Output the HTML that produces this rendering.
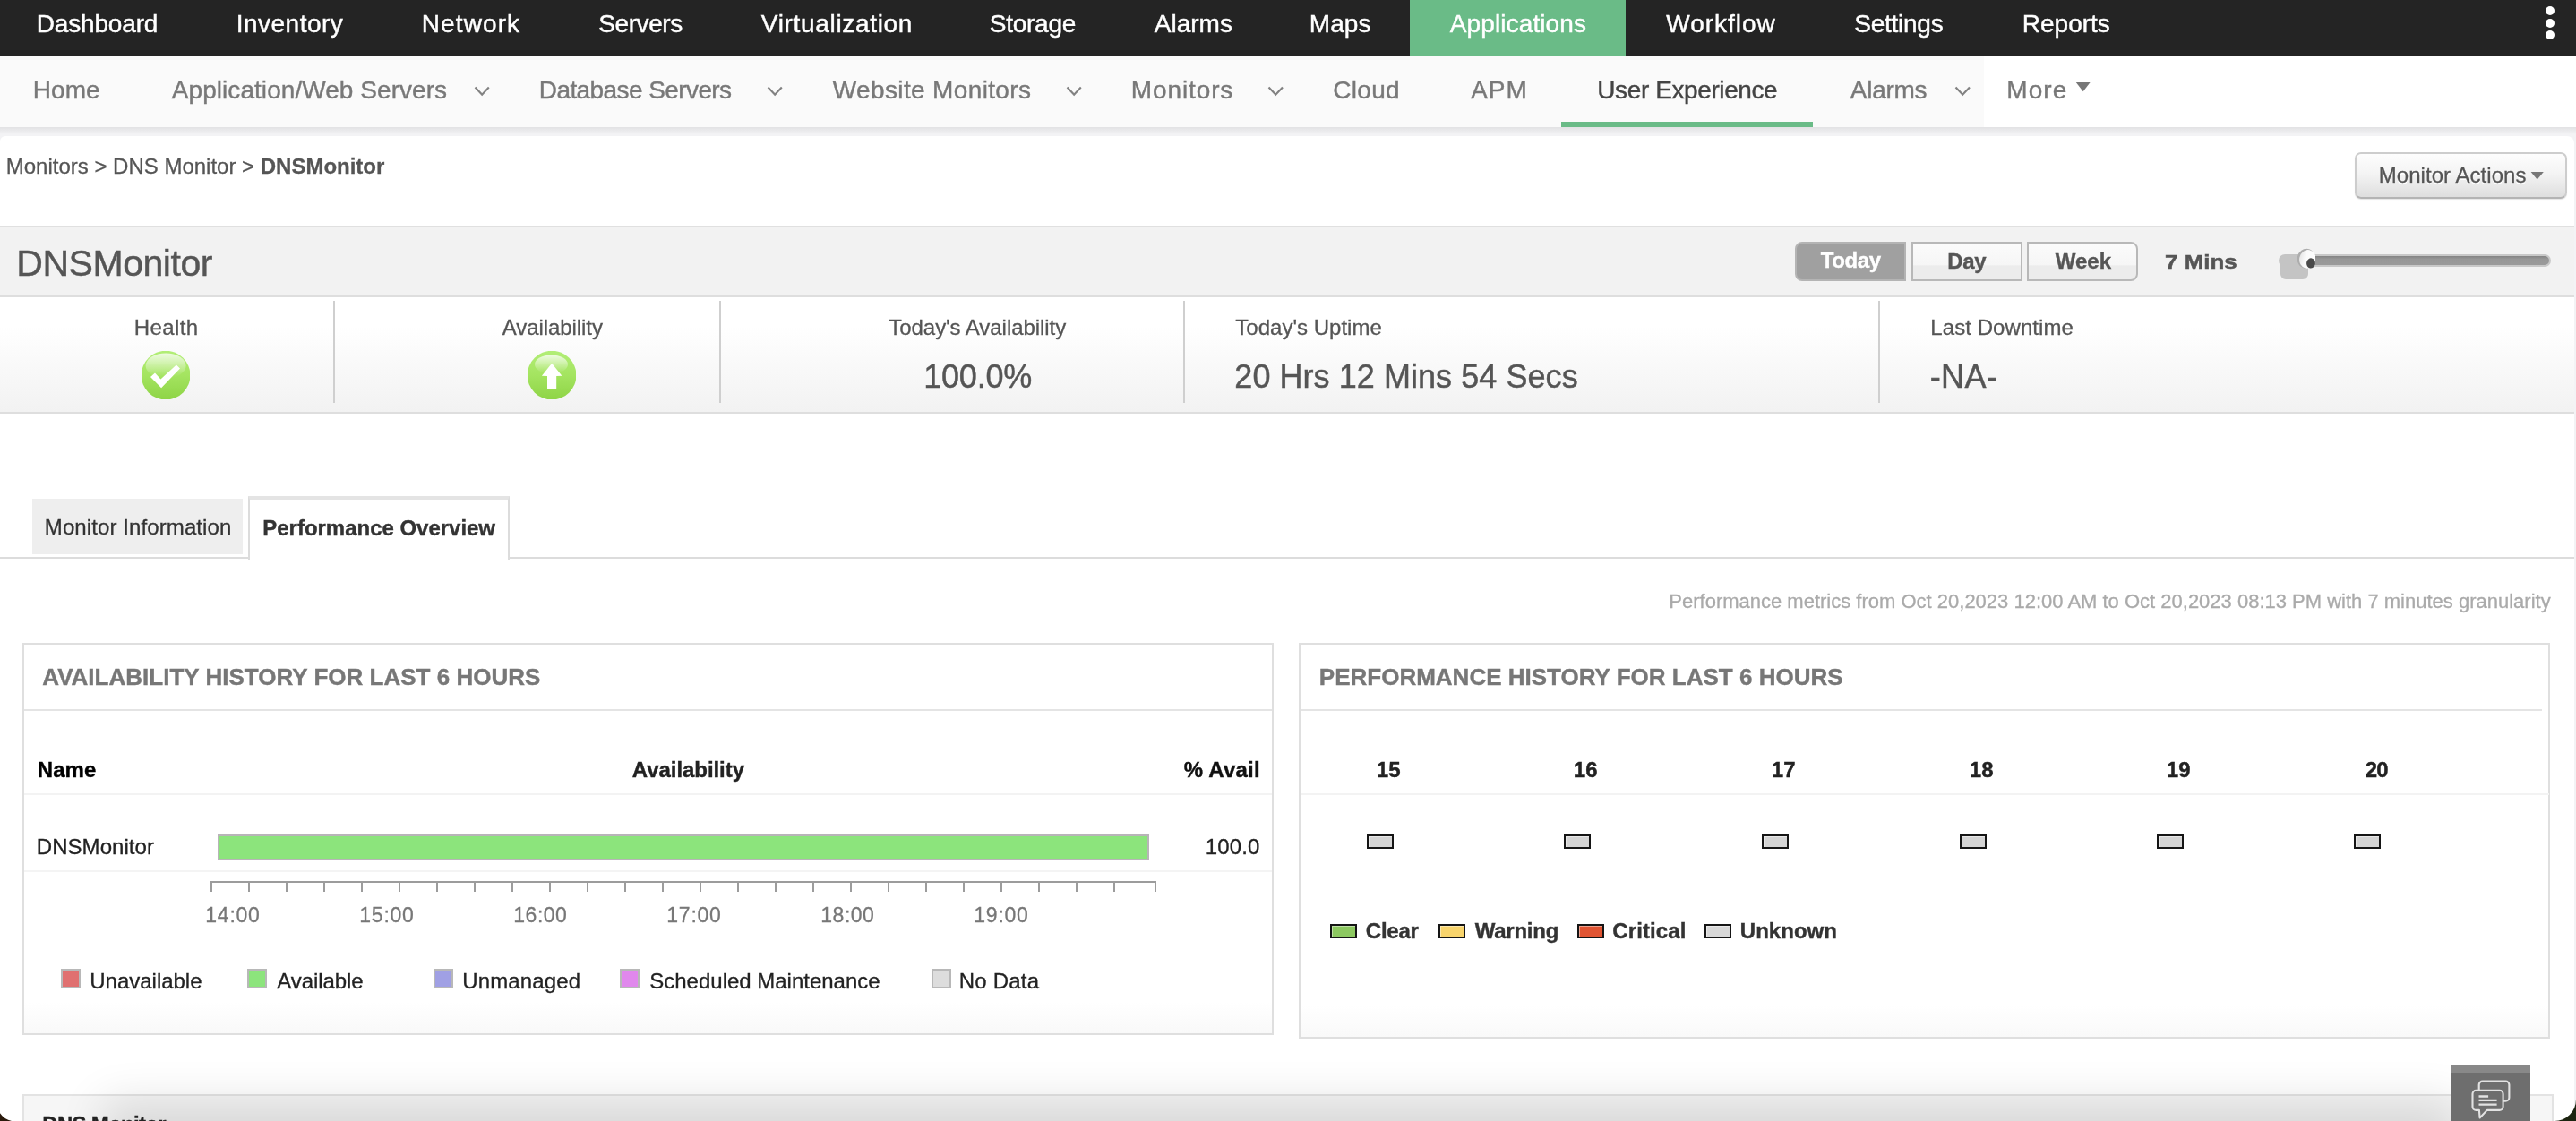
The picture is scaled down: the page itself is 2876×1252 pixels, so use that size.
<!DOCTYPE html>
<html><head><meta charset="utf-8"><title>DNSMonitor</title>
<style>
html,body{margin:0;padding:0;}
body{width:2876px;height:1252px;overflow:hidden;background:#f3f3f5;font-family:"Liberation Sans",sans-serif;position:relative;}
.r{position:absolute;}
.t{position:absolute;white-space:nowrap;font-family:"Liberation Sans",sans-serif;}
.t b{font-weight:700;}
</style></head><body>
<!-- top bar -->
<div class="r" style="left:0;top:0;width:2876px;height:62px;background:#242424"></div>
<div class="r" style="left:1574px;top:0;width:241px;height:62px;background:#6abb87"></div>
<div class="r" style="left:2842px;top:7px;width:10px;height:10px;border-radius:50%;background:#fff"></div>
<div class="r" style="left:2842px;top:20.5px;width:10px;height:10px;border-radius:50%;background:#fff"></div>
<div class="r" style="left:2842px;top:34px;width:10px;height:10px;border-radius:50%;background:#fff"></div>
<!-- sub nav -->
<div class="r" style="left:0;top:62px;width:2876px;height:80px;background:#fff"></div>
<div class="r" style="left:0;top:62px;width:2215px;height:80px;background:#fafafa"></div>
<div class="r" style="left:0;top:142px;width:2876px;height:8px;background:linear-gradient(#e2e2e4,#f3f3f5)"></div>
<div class="r" style="left:1743px;top:136px;width:281px;height:6px;background:#6abb87"></div>
<svg style="position:absolute;left:528px;top:94.8px" width="20.299999999999955" height="13.200000000000003" viewBox="-2 -2 20.299999999999955 13.200000000000003"><path d="M0.5 0.5 L8.149999999999977 8.700000000000003 L15.799999999999955 0.5" fill="none" stroke="#828282" stroke-width="2.2" stroke-linecap="butt" stroke-linejoin="miter"/></svg><svg style="position:absolute;left:855px;top:94.8px" width="20.299999999999955" height="13.200000000000003" viewBox="-2 -2 20.299999999999955 13.200000000000003"><path d="M0.5 0.5 L8.149999999999977 8.700000000000003 L15.799999999999955 0.5" fill="none" stroke="#828282" stroke-width="2.2" stroke-linecap="butt" stroke-linejoin="miter"/></svg><svg style="position:absolute;left:1189.2px;top:94.8px" width="20.299999999999955" height="13.200000000000003" viewBox="-2 -2 20.299999999999955 13.200000000000003"><path d="M0.5 0.5 L8.149999999999977 8.700000000000003 L15.799999999999955 0.5" fill="none" stroke="#828282" stroke-width="2.2" stroke-linecap="butt" stroke-linejoin="miter"/></svg><svg style="position:absolute;left:1413.5px;top:94.8px" width="20.5" height="13.200000000000003" viewBox="-2 -2 20.5 13.200000000000003"><path d="M0.5 0.5 L8.25 8.700000000000003 L16.0 0.5" fill="none" stroke="#828282" stroke-width="2.2" stroke-linecap="butt" stroke-linejoin="miter"/></svg><svg style="position:absolute;left:2181px;top:94.8px" width="20.5" height="13.200000000000003" viewBox="-2 -2 20.5 13.200000000000003"><path d="M0.5 0.5 L8.25 8.700000000000003 L16.0 0.5" fill="none" stroke="#828282" stroke-width="2.2" stroke-linecap="butt" stroke-linejoin="miter"/></svg>
<svg class="r" style="left:2317px;top:92px" width="18" height="11" viewBox="0 0 18 11"><path d="M0.8 0 L16.6 0 L8.7 10.2 Z" fill="#777"/></svg>
<!-- content -->
<div class="r" style="left:0;top:152px;width:2874px;height:1100px;background:#fff;border-radius:6px 8px 0 0"></div>
<!-- monitor actions btn -->
<div class="r" style="left:2629px;top:170px;width:237px;height:52px;box-sizing:border-box;border:2px solid #cdcdcd;border-bottom-color:#b4b4b4;border-radius:7px;background:linear-gradient(#fdfdfd,#f4f4f4 45%,#dedede);box-shadow:0 1px 1px rgba(0,0,0,.10)"></div>
<svg class="r" style="left:2825px;top:192px" width="16" height="9" viewBox="0 0 16 9"><path d="M0.6 0 L14.8 0 L7.7 8.4 Z" fill="#777"/></svg>
<!-- header band -->
<div class="r" style="left:0;top:252px;width:2874px;height:80px;box-sizing:border-box;border-top:2px solid #e0e0e0;border-bottom:2px solid #dedede;background:#f2f2f2"></div>
<!-- stats row -->
<div class="r" style="left:0;top:332px;width:2874px;height:130px;box-sizing:border-box;border-bottom:2px solid #dedede;background:linear-gradient(#fff 25%,#f2f2f2)"></div>
<div class="r" style="left:372px;top:336px;width:2px;height:114px;background:#cfcfcf"></div>
<div class="r" style="left:803px;top:336px;width:2px;height:114px;background:#cfcfcf"></div>
<div class="r" style="left:1321px;top:336px;width:2px;height:114px;background:#cfcfcf"></div>
<div class="r" style="left:2097px;top:336px;width:2px;height:114px;background:#cfcfcf"></div>
<!-- health icon -->
<svg class="r" style="left:157.9px;top:391.8px" width="54.2" height="54.2" viewBox="0 0 54.2 54.2">
<defs><linearGradient id="g1" x1="0" y1="0" x2="0" y2="1"><stop offset="0" stop-color="#b2ee76"/><stop offset=".5" stop-color="#a4e460"/><stop offset="1" stop-color="#8ed446"/></linearGradient>
<linearGradient id="g2" x1="0" y1="0" x2="0" y2="1"><stop offset="0" stop-color="#fff" stop-opacity=".78"/><stop offset=".9" stop-color="#fff" stop-opacity="0.03"/><stop offset="1" stop-color="#fff" stop-opacity="0"/></linearGradient>
<clipPath id="cp"><rect x="0" y="0" width="54.2" height="54.2"/></clipPath></defs>
<g clip-path="url(#cp)"><circle cx="27.1" cy="27.1" r="27.35" fill="url(#g1)"/>
<ellipse cx="27.1" cy="16.5" rx="22.5" ry="14" fill="url(#g2)"/>
<path d="M10 28.9 L15 24.4 L21.4 31.6 L38.9 15.5 L43 19.6 L22.1 41.3 Z" fill="#fff"/></g></svg>
<svg class="r" style="left:588.9px;top:391.8px" width="54.2" height="54.2" viewBox="0 0 54.2 54.2">
<g clip-path="url(#cp)"><circle cx="27.1" cy="27.1" r="27.35" fill="url(#g1)"/>
<ellipse cx="26.5" cy="15" rx="18.5" ry="10.5" fill="url(#g2)"/>
<path d="M27.1 13.7 L38.4 27.7 L32.2 27.9 L32.2 42.2 L22 42.2 L22 27.9 L15.9 27.7 Z" fill="#fff"/></g></svg>
<!-- period buttons -->
<div class="r" style="left:2004px;top:270px;width:124px;height:44px;box-sizing:border-box;border:2px solid #b4b4b4;border-radius:8px 0 0 8px;background:#a0a0a0"></div>
<div class="r" style="left:2134px;top:270px;width:124px;height:44px;box-sizing:border-box;border:2px solid #b8b8b8;background:linear-gradient(#fbfbfb,#f6f6f6 60%,#ececec 62%,#ececec)"></div>
<div class="r" style="left:2263px;top:270px;width:124px;height:44px;box-sizing:border-box;border:2px solid #b8b8b8;border-radius:0 8px 8px 0;background:linear-gradient(#fbfbfb,#f6f6f6 60%,#ececec 62%,#ececec)"></div>
<!-- slider -->
<div class="r" style="left:2544px;top:284px;width:33px;height:14px;border-radius:7px 0 0 7px;background:#c4c4c4"></div>
<div class="r" style="left:2546px;top:288px;width:31px;height:24px;border-radius:0 0 6px 6px;background:#c4c4c4"></div>
<div class="r" style="left:2572px;top:284px;width:276px;height:14px;box-sizing:border-box;border:2px solid #c8c8c8;border-radius:7px;background:linear-gradient(#838383,#979797 35%,#9a9a9a)"></div>
<svg class="r" style="left:2562px;top:275px" width="26" height="28" viewBox="0 0 26 28">
<defs><linearGradient id="hg" x1="0" y1="0" x2="1" y2="0"><stop offset="0" stop-color="#e6e6e6"/><stop offset=".35" stop-color="#fafafa"/><stop offset="1" stop-color="#fff"/></linearGradient></defs>
<clipPath id="hc"><rect x="0" y="0" width="23" height="28"/></clipPath><g clip-path="url(#hc)"><g transform="rotate(12 13 14)"><ellipse cx="12.6" cy="13.8" rx="10" ry="11" fill="#adadad"/><ellipse cx="14.4" cy="14.2" rx="9.2" ry="10.4" fill="url(#hg)"/></g></g>
<ellipse cx="18" cy="18.9" rx="4.9" ry="5.6" fill="#4a4a4a" transform="rotate(10 18 18.9)"/>
</svg>
<!-- tabs -->
<div class="r" style="left:0;top:622px;width:2874px;height:2px;background:#dcdcdc"></div>
<div class="r" style="left:36px;top:557px;width:235px;height:62px;background:#eee"></div>
<div class="r" style="left:277px;top:554px;width:292px;height:71px;box-sizing:border-box;border:2px solid #dcdcdc;border-top:4px solid #e4e4e4;border-bottom:0;background:#fff"></div>
<!-- left panel -->
<div class="r" style="left:25px;top:718px;width:1397px;height:438px;box-sizing:border-box;border:2px solid #dfdfdf;background:linear-gradient(#fff 92%,#f9f9f9)"></div>
<div class="r" style="left:27px;top:792px;width:1393px;height:2px;background:#e4e4e4"></div>
<div class="r" style="left:27px;top:886px;width:1393px;height:2px;background:#f3f3f3"></div>
<div class="r" style="left:27px;top:972px;width:1393px;height:2px;background:#f4f4f4"></div>
<div class="r" style="left:243px;top:932px;width:1040px;height:29px;box-sizing:border-box;border:2px solid #b8b4b8;background:#8ce47c"></div>
<div class="r" style="left:277px;top:985px;width:2px;height:11px;background:#9c9c9c"></div><div class="r" style="left:319px;top:985px;width:2px;height:11px;background:#9c9c9c"></div><div class="r" style="left:361px;top:985px;width:2px;height:11px;background:#9c9c9c"></div><div class="r" style="left:403px;top:985px;width:2px;height:11px;background:#9c9c9c"></div><div class="r" style="left:445px;top:985px;width:2px;height:11px;background:#9c9c9c"></div><div class="r" style="left:487px;top:985px;width:2px;height:11px;background:#9c9c9c"></div><div class="r" style="left:529px;top:985px;width:2px;height:11px;background:#9c9c9c"></div><div class="r" style="left:571px;top:985px;width:2px;height:11px;background:#9c9c9c"></div><div class="r" style="left:613px;top:985px;width:2px;height:11px;background:#9c9c9c"></div><div class="r" style="left:655px;top:985px;width:2px;height:11px;background:#9c9c9c"></div><div class="r" style="left:697px;top:985px;width:2px;height:11px;background:#9c9c9c"></div><div class="r" style="left:739px;top:985px;width:2px;height:11px;background:#9c9c9c"></div><div class="r" style="left:781px;top:985px;width:2px;height:11px;background:#9c9c9c"></div><div class="r" style="left:823px;top:985px;width:2px;height:11px;background:#9c9c9c"></div><div class="r" style="left:865px;top:985px;width:2px;height:11px;background:#9c9c9c"></div><div class="r" style="left:907px;top:985px;width:2px;height:11px;background:#9c9c9c"></div><div class="r" style="left:949px;top:985px;width:2px;height:11px;background:#9c9c9c"></div><div class="r" style="left:991px;top:985px;width:2px;height:11px;background:#9c9c9c"></div><div class="r" style="left:1033px;top:985px;width:2px;height:11px;background:#9c9c9c"></div><div class="r" style="left:1075px;top:985px;width:2px;height:11px;background:#9c9c9c"></div><div class="r" style="left:1117px;top:985px;width:2px;height:11px;background:#9c9c9c"></div><div class="r" style="left:1159px;top:985px;width:2px;height:11px;background:#9c9c9c"></div><div class="r" style="left:1201px;top:985px;width:2px;height:11px;background:#9c9c9c"></div><div class="r" style="left:1243px;top:985px;width:2px;height:11px;background:#9c9c9c"></div><div class="r" style="left:235px;top:984px;width:1056px;height:2px;background:#9c9c9c"></div><div class="r" style="left:235px;top:984px;width:2px;height:12px;background:#9c9c9c"></div><div class="r" style="left:1289px;top:984px;width:2px;height:12px;background:#9c9c9c"></div>
<div class="r" style="left:68px;top:1082px;width:22px;height:22px;box-sizing:border-box;border:2px solid #b8b8b8;background:#e07070"></div><div class="r" style="left:276px;top:1082px;width:22px;height:22px;box-sizing:border-box;border:2px solid #b8b8b8;background:#8ce47c"></div><div class="r" style="left:484px;top:1082px;width:22px;height:22px;box-sizing:border-box;border:2px solid #b8b8b8;background:#a0a0e4"></div><div class="r" style="left:692px;top:1082px;width:22px;height:22px;box-sizing:border-box;border:2px solid #b8b8b8;background:#e088ec"></div><div class="r" style="left:1040px;top:1082px;width:22px;height:22px;box-sizing:border-box;border:2px solid #b8b8b8;background:#dddddd"></div>
<!-- right panel -->
<div class="r" style="left:1450px;top:718px;width:1397px;height:442px;box-sizing:border-box;border:2px solid #dfdfdf;background:linear-gradient(#fff 92%,#f9f9f9)"></div>
<div class="r" style="left:1452px;top:792px;width:1386px;height:2px;background:#e4e4e4"></div>
<div class="r" style="left:1452px;top:886px;width:1394px;height:2px;background:#f3f3f3"></div>
<div class="r" style="left:1526px;top:932px;width:30px;height:16px;box-sizing:border-box;border:2px solid #151515;box-shadow:inset 1px 1px 0 rgba(255,255,255,.45);background:#d4d4d4"></div><div class="r" style="left:1746px;top:932px;width:30px;height:16px;box-sizing:border-box;border:2px solid #151515;box-shadow:inset 1px 1px 0 rgba(255,255,255,.45);background:#d4d4d4"></div><div class="r" style="left:1967px;top:932px;width:30px;height:16px;box-sizing:border-box;border:2px solid #151515;box-shadow:inset 1px 1px 0 rgba(255,255,255,.45);background:#d4d4d4"></div><div class="r" style="left:2188px;top:932px;width:30px;height:16px;box-sizing:border-box;border:2px solid #151515;box-shadow:inset 1px 1px 0 rgba(255,255,255,.45);background:#d4d4d4"></div><div class="r" style="left:2408px;top:932px;width:30px;height:16px;box-sizing:border-box;border:2px solid #151515;box-shadow:inset 1px 1px 0 rgba(255,255,255,.45);background:#d4d4d4"></div><div class="r" style="left:2628px;top:932px;width:30px;height:16px;box-sizing:border-box;border:2px solid #151515;box-shadow:inset 1px 1px 0 rgba(255,255,255,.45);background:#d4d4d4"></div>
<div class="r" style="left:1485px;top:1032px;width:30px;height:16px;box-sizing:border-box;border:2px solid #151515;box-shadow:inset 1px 1px 0 rgba(255,255,255,.45);background:#8cc860"></div><div class="r" style="left:1606px;top:1032px;width:30px;height:16px;box-sizing:border-box;border:2px solid #151515;box-shadow:inset 1px 1px 0 rgba(255,255,255,.45);background:#f8d46c"></div><div class="r" style="left:1761px;top:1032px;width:30px;height:16px;box-sizing:border-box;border:2px solid #151515;box-shadow:inset 1px 1px 0 rgba(255,255,255,.45);background:#e05432"></div><div class="r" style="left:1903px;top:1032px;width:30px;height:16px;box-sizing:border-box;border:2px solid #151515;box-shadow:inset 1px 1px 0 rgba(255,255,255,.45);background:#d8d8d8"></div>
<!-- bottom panel -->
<div class="r" style="left:25px;top:1222px;width:2826px;height:40px;box-sizing:border-box;border:2px solid #e3e3e3;background:#f6f6f6"></div>
<!-- bottom shadow -->
<div class="r" style="left:0;top:1150px;width:2876px;height:102px;overflow:hidden"><div class="r" style="left:160px;top:125px;width:2540px;height:10px;box-shadow:0 0 50px 45px rgba(0,0,0,.12)"></div></div>
<!-- chat widget -->
<div class="r" style="left:2737px;top:1190px;width:88px;height:62px;background:#6e6e6e"></div>
<div class="r" style="left:2737px;top:1190px;width:88px;height:8px;background:#888"></div>
<svg class="r" style="left:2756px;top:1204px" width="52" height="48" viewBox="0 0 52 48"><g fill="none" stroke="#e2e2e2" stroke-width="2.1" stroke-linejoin="round">
<path d="M11.7 13.7 V7.6 a4 4 0 0 1 4 -4 H41.4 a4 4 0 0 1 4 4 V21.8 a4 4 0 0 1 -4 4 H38.6"/>
<path d="M8.5 13.7 H34.6 a4 4 0 0 1 4 4 V31.9 a4 4 0 0 1 -4 4 H20.7 L12.6 44.5 L11.9 35.9 H8.5 a4 4 0 0 1 -4 -4 V17.7 a4 4 0 0 1 4 -4 Z"/>
<path d="M11.5 20.5 H22.1 M11.5 24.9 H31.6 M11.5 29.6 H31.6" stroke-width="2.4"/></g></svg>
<!-- window corners -->
<svg class="r" style="left:2852px;top:1228px" width="24" height="24" viewBox="0 0 24 24"><path d="M24 0 V24 H0 A24 24 0 0 0 24 0 Z" fill="#1c2410"/></svg>
<svg class="r" style="left:0;top:1230px" width="22" height="22" viewBox="0 0 22 22"><path d="M0 13.3 A20.4 20.4 0 0 0 13 22 L0 22 Z" fill="#2a1a0c"/></svg>
<div class="r" style="left:0;top:0;width:2876px;height:1252px;will-change:transform">
<span class="t" style="left:40.80px;top:9.00px;font-size:28px;line-height:35px;font-weight:400;color:#fff;letter-spacing:-0.175px;-webkit-text-stroke:0.45px;">Dashboard</span>
<span class="t" style="left:263.80px;top:9.00px;font-size:28px;line-height:35px;font-weight:400;color:#fff;letter-spacing:0.475px;-webkit-text-stroke:0.45px;">Inventory</span>
<span class="t" style="left:470.80px;top:9.00px;font-size:28px;line-height:35px;font-weight:400;color:#fff;letter-spacing:1.100px;-webkit-text-stroke:0.45px;">Network</span>
<span class="t" style="left:668.30px;top:9.00px;font-size:28px;line-height:35px;font-weight:400;color:#fff;letter-spacing:-0.433px;-webkit-text-stroke:0.45px;">Servers</span>
<span class="t" style="left:849.80px;top:9.00px;font-size:28px;line-height:35px;font-weight:400;color:#fff;letter-spacing:0.677px;-webkit-text-stroke:0.45px;">Virtualization</span>
<span class="t" style="left:1104.80px;top:9.00px;font-size:28px;line-height:35px;font-weight:400;color:#fff;letter-spacing:-0.267px;-webkit-text-stroke:0.45px;">Storage</span>
<span class="t" style="left:1288.80px;top:9.00px;font-size:28px;line-height:35px;font-weight:400;color:#fff;letter-spacing:0.000px;-webkit-text-stroke:0.45px;">Alarms</span>
<span class="t" style="left:1461.80px;top:9.00px;font-size:28px;line-height:35px;font-weight:400;color:#fff;letter-spacing:0.067px;-webkit-text-stroke:0.45px;">Maps</span>
<span class="t" style="left:1618.80px;top:9.00px;font-size:28px;line-height:35px;font-weight:400;color:#fff;letter-spacing:0.109px;-webkit-text-stroke:0.45px;">Applications</span>
<span class="t" style="left:1860.30px;top:9.00px;font-size:28px;line-height:35px;font-weight:400;color:#fff;letter-spacing:0.971px;-webkit-text-stroke:0.45px;">Workflow</span>
<span class="t" style="left:2070.30px;top:9.00px;font-size:28px;line-height:35px;font-weight:400;color:#fff;letter-spacing:-0.257px;-webkit-text-stroke:0.45px;">Settings</span>
<span class="t" style="left:2257.80px;top:9.00px;font-size:28px;line-height:35px;font-weight:400;color:#fff;letter-spacing:0.000px;-webkit-text-stroke:0.45px;">Reports</span>
<span class="t" style="left:36.80px;top:83.00px;font-size:28px;line-height:35px;font-weight:400;color:#787878;letter-spacing:0.067px;-webkit-text-stroke:0.4px;">Home</span>
<span class="t" style="left:191.80px;top:83.00px;font-size:28px;line-height:35px;font-weight:400;color:#787878;letter-spacing:0.055px;-webkit-text-stroke:0.4px;">Application/Web Servers</span>
<span class="t" style="left:601.80px;top:83.00px;font-size:28px;line-height:35px;font-weight:400;color:#787878;letter-spacing:-0.587px;-webkit-text-stroke:0.4px;">Database Servers</span>
<span class="t" style="left:929.80px;top:83.00px;font-size:28px;line-height:35px;font-weight:400;color:#787878;letter-spacing:0.360px;-webkit-text-stroke:0.4px;">Website Monitors</span>
<span class="t" style="left:1262.80px;top:83.00px;font-size:28px;line-height:35px;font-weight:400;color:#787878;letter-spacing:0.886px;-webkit-text-stroke:0.4px;">Monitors</span>
<span class="t" style="left:1488.30px;top:83.00px;font-size:28px;line-height:35px;font-weight:400;color:#787878;letter-spacing:0.300px;-webkit-text-stroke:0.4px;">Cloud</span>
<span class="t" style="left:1642.30px;top:83.00px;font-size:28px;line-height:35px;font-weight:400;color:#787878;letter-spacing:0.900px;-webkit-text-stroke:0.4px;">APM</span>
<span class="t" style="left:1783.30px;top:83.00px;font-size:28px;line-height:35px;font-weight:400;color:#444;letter-spacing:-0.400px;-webkit-text-stroke:0.4px;">User Experience</span>
<span class="t" style="left:2065.80px;top:83.00px;font-size:28px;line-height:35px;font-weight:400;color:#787878;letter-spacing:-0.280px;-webkit-text-stroke:0.4px;">Alarms</span>
<span class="t" style="left:2240.30px;top:83.00px;font-size:28px;line-height:35px;font-weight:400;color:#787878;letter-spacing:1.067px;-webkit-text-stroke:0.4px;">More</span>
<span class="t" style="left:6.80px;top:170.00px;font-size:24px;line-height:31px;font-weight:400;color:#555;letter-spacing:-0.006px;-webkit-text-stroke:0.3px;">Monitors &gt; DNS Monitor &gt; <b>DNSMonitor</b></span>
<span class="t" style="left:2655.80px;top:180.00px;font-size:24px;line-height:31px;font-weight:400;color:#555;letter-spacing:0.043px;-webkit-text-stroke:0.3px;text-shadow:0 2px 0 #fff;">Monitor Actions</span>
<span class="t" style="left:18.30px;top:269.00px;font-size:41px;line-height:50px;font-weight:400;color:#555;letter-spacing:-0.467px;-webkit-text-stroke:0.45px;">DNSMonitor</span>
<span class="t" style="left:2032.80px;top:275.00px;font-size:24px;line-height:31px;font-weight:700;color:#fff;letter-spacing:-0.400px;-webkit-text-stroke:0.4px;">Today</span>
<span class="t" style="left:2174.30px;top:276.00px;font-size:24px;line-height:31px;font-weight:700;color:#555;letter-spacing:-0.400px;-webkit-text-stroke:0.4px;">Day</span>
<span class="t" style="left:2294.80px;top:276.00px;font-size:24px;line-height:31px;font-weight:700;color:#555;letter-spacing:0.000px;-webkit-text-stroke:0.4px;">Week</span>
<span class="t" style="left:2416.80px;top:278.00px;font-size:22px;line-height:29px;font-weight:700;color:#555;letter-spacing:0.000px;-webkit-text-stroke:0.5px;transform:scaleX(1.1791);transform-origin:0 0;">7 Mins</span>
<span class="t" style="left:149.80px;top:350.00px;font-size:24px;line-height:31px;font-weight:400;color:#555;letter-spacing:0.400px;-webkit-text-stroke:0.3px;">Health</span>
<span class="t" style="left:560.80px;top:350.00px;font-size:24px;line-height:31px;font-weight:400;color:#555;letter-spacing:-0.073px;-webkit-text-stroke:0.3px;">Availability</span>
<span class="t" style="left:992.30px;top:350.00px;font-size:24px;line-height:31px;font-weight:400;color:#555;letter-spacing:-0.053px;-webkit-text-stroke:0.3px;">Today's Availability</span>
<span class="t" style="left:1379.30px;top:350.00px;font-size:24px;line-height:31px;font-weight:400;color:#555;letter-spacing:0.015px;-webkit-text-stroke:0.3px;">Today's Uptime</span>
<span class="t" style="left:2155.30px;top:350.00px;font-size:24px;line-height:31px;font-weight:400;color:#555;letter-spacing:0.067px;-webkit-text-stroke:0.3px;">Last Downtime</span>
<span class="t" style="left:1031.30px;top:398.00px;font-size:36px;line-height:45px;font-weight:400;color:#555;letter-spacing:-0.240px;-webkit-text-stroke:0.45px;">100.0%</span>
<span class="t" style="left:1378.30px;top:398.00px;font-size:36px;line-height:45px;font-weight:400;color:#555;letter-spacing:0.057px;-webkit-text-stroke:0.45px;">20 Hrs 12 Mins 54 Secs</span>
<span class="t" style="left:2154.80px;top:398.00px;font-size:36px;line-height:45px;font-weight:400;color:#555;letter-spacing:0.333px;-webkit-text-stroke:0.45px;">-NA-</span>
<span class="t" style="left:49.80px;top:573.00px;font-size:24px;line-height:31px;font-weight:400;color:#333;letter-spacing:0.100px;-webkit-text-stroke:0.3px;">Monitor Information</span>
<span class="t" style="left:293.30px;top:574.00px;font-size:24px;line-height:31px;font-weight:700;color:#333;letter-spacing:-0.021px;-webkit-text-stroke:0.4px;">Performance Overview</span>
<span class="t" style="left:1863.30px;top:657.00px;font-size:22px;line-height:29px;font-weight:400;color:#aaa;letter-spacing:0.000px;-webkit-text-stroke:0.3px;">Performance metrics from Oct 20,2023 12:00 AM to Oct 20,2023 08:13 PM with 7 minutes granularity</span>
<span class="t" style="left:47.30px;top:739.00px;font-size:26px;line-height:34px;font-weight:700;color:#777;letter-spacing:0.011px;-webkit-text-stroke:0.4px;">AVAILABILITY HISTORY FOR LAST 6 HOURS</span>
<span class="t" style="left:1472.80px;top:739.00px;font-size:26px;line-height:34px;font-weight:700;color:#777;letter-spacing:0.006px;-webkit-text-stroke:0.4px;">PERFORMANCE HISTORY FOR LAST 6 HOURS</span>
<span class="t" style="left:41.80px;top:844.00px;font-size:24px;line-height:31px;font-weight:700;color:#000;letter-spacing:0.067px;-webkit-text-stroke:0.4px;">Name</span>
<span class="t" style="left:705.80px;top:844.00px;font-size:24px;line-height:31px;font-weight:700;color:#222;letter-spacing:-0.055px;-webkit-text-stroke:0.4px;">Availability</span>
<span class="t" style="left:1321.80px;top:844.00px;font-size:24px;line-height:31px;font-weight:700;color:#111;letter-spacing:0.200px;-webkit-text-stroke:0.4px;">% Avail</span>
<span class="t" style="left:1536.80px;top:844.00px;font-size:24px;line-height:31px;font-weight:700;color:#222;letter-spacing:0.000px;-webkit-text-stroke:0.4px;">15</span>
<span class="t" style="left:1756.80px;top:844.00px;font-size:24px;line-height:31px;font-weight:700;color:#222;letter-spacing:0.000px;-webkit-text-stroke:0.4px;">16</span>
<span class="t" style="left:1977.80px;top:844.00px;font-size:24px;line-height:31px;font-weight:700;color:#222;letter-spacing:0.000px;-webkit-text-stroke:0.4px;">17</span>
<span class="t" style="left:2198.80px;top:844.00px;font-size:24px;line-height:31px;font-weight:700;color:#222;letter-spacing:0.000px;-webkit-text-stroke:0.4px;">18</span>
<span class="t" style="left:2418.80px;top:844.00px;font-size:24px;line-height:31px;font-weight:700;color:#222;letter-spacing:0.000px;-webkit-text-stroke:0.4px;">19</span>
<span class="t" style="left:2640.80px;top:844.00px;font-size:24px;line-height:31px;font-weight:700;color:#222;letter-spacing:-1.000px;-webkit-text-stroke:0.4px;">20</span>
<span class="t" style="left:40.80px;top:930.00px;font-size:24px;line-height:31px;font-weight:400;color:#222;letter-spacing:0.044px;-webkit-text-stroke:0.3px;">DNSMonitor</span>
<span class="t" style="left:1345.80px;top:930.00px;font-size:24px;line-height:31px;font-weight:400;color:#222;letter-spacing:0.150px;-webkit-text-stroke:0.3px;">100.0</span>
<span class="t" style="left:229.30px;top:1007.00px;font-size:23px;line-height:30px;font-weight:400;color:#777;letter-spacing:0.750px;-webkit-text-stroke:0.3px;">14:00</span>
<span class="t" style="left:401.30px;top:1007.00px;font-size:23px;line-height:30px;font-weight:400;color:#777;letter-spacing:0.750px;-webkit-text-stroke:0.3px;">15:00</span>
<span class="t" style="left:573.30px;top:1007.00px;font-size:23px;line-height:30px;font-weight:400;color:#777;letter-spacing:0.500px;-webkit-text-stroke:0.3px;">16:00</span>
<span class="t" style="left:744.30px;top:1007.00px;font-size:23px;line-height:30px;font-weight:400;color:#777;letter-spacing:0.750px;-webkit-text-stroke:0.3px;">17:00</span>
<span class="t" style="left:916.30px;top:1007.00px;font-size:23px;line-height:30px;font-weight:400;color:#777;letter-spacing:0.500px;-webkit-text-stroke:0.3px;">18:00</span>
<span class="t" style="left:1087.30px;top:1007.00px;font-size:23px;line-height:30px;font-weight:400;color:#777;letter-spacing:0.750px;-webkit-text-stroke:0.3px;">19:00</span>
<span class="t" style="left:100.30px;top:1080.00px;font-size:24px;line-height:31px;font-weight:400;color:#222;letter-spacing:-0.020px;-webkit-text-stroke:0.3px;">Unavailable</span>
<span class="t" style="left:309.30px;top:1080.00px;font-size:24px;line-height:31px;font-weight:400;color:#222;letter-spacing:-0.075px;-webkit-text-stroke:0.3px;">Available</span>
<span class="t" style="left:516.30px;top:1080.00px;font-size:24px;line-height:31px;font-weight:400;color:#222;letter-spacing:0.125px;-webkit-text-stroke:0.3px;">Unmanaged</span>
<span class="t" style="left:725.30px;top:1080.00px;font-size:24px;line-height:31px;font-weight:400;color:#222;letter-spacing:-0.010px;-webkit-text-stroke:0.3px;">Scheduled Maintenance</span>
<span class="t" style="left:1070.80px;top:1080.00px;font-size:24px;line-height:31px;font-weight:400;color:#222;letter-spacing:0.200px;-webkit-text-stroke:0.3px;">No Data</span>
<span class="t" style="left:1524.80px;top:1024.00px;font-size:24px;line-height:31px;font-weight:700;color:#333;letter-spacing:-0.250px;-webkit-text-stroke:0.4px;">Clear</span>
<span class="t" style="left:1646.80px;top:1024.00px;font-size:24px;line-height:31px;font-weight:700;color:#333;letter-spacing:-0.267px;-webkit-text-stroke:0.4px;">Warning</span>
<span class="t" style="left:1800.30px;top:1024.00px;font-size:24px;line-height:31px;font-weight:700;color:#333;letter-spacing:0.114px;-webkit-text-stroke:0.4px;">Critical</span>
<span class="t" style="left:1942.80px;top:1024.00px;font-size:24px;line-height:31px;font-weight:700;color:#333;letter-spacing:0.033px;-webkit-text-stroke:0.4px;">Unknown</span>
<span class="t" style="left:47.30px;top:1240.00px;font-size:24px;line-height:31px;font-weight:700;color:#222;letter-spacing:-0.700px;-webkit-text-stroke:0.4px;">DNS Monitor</span>
</div>
</body></html>
